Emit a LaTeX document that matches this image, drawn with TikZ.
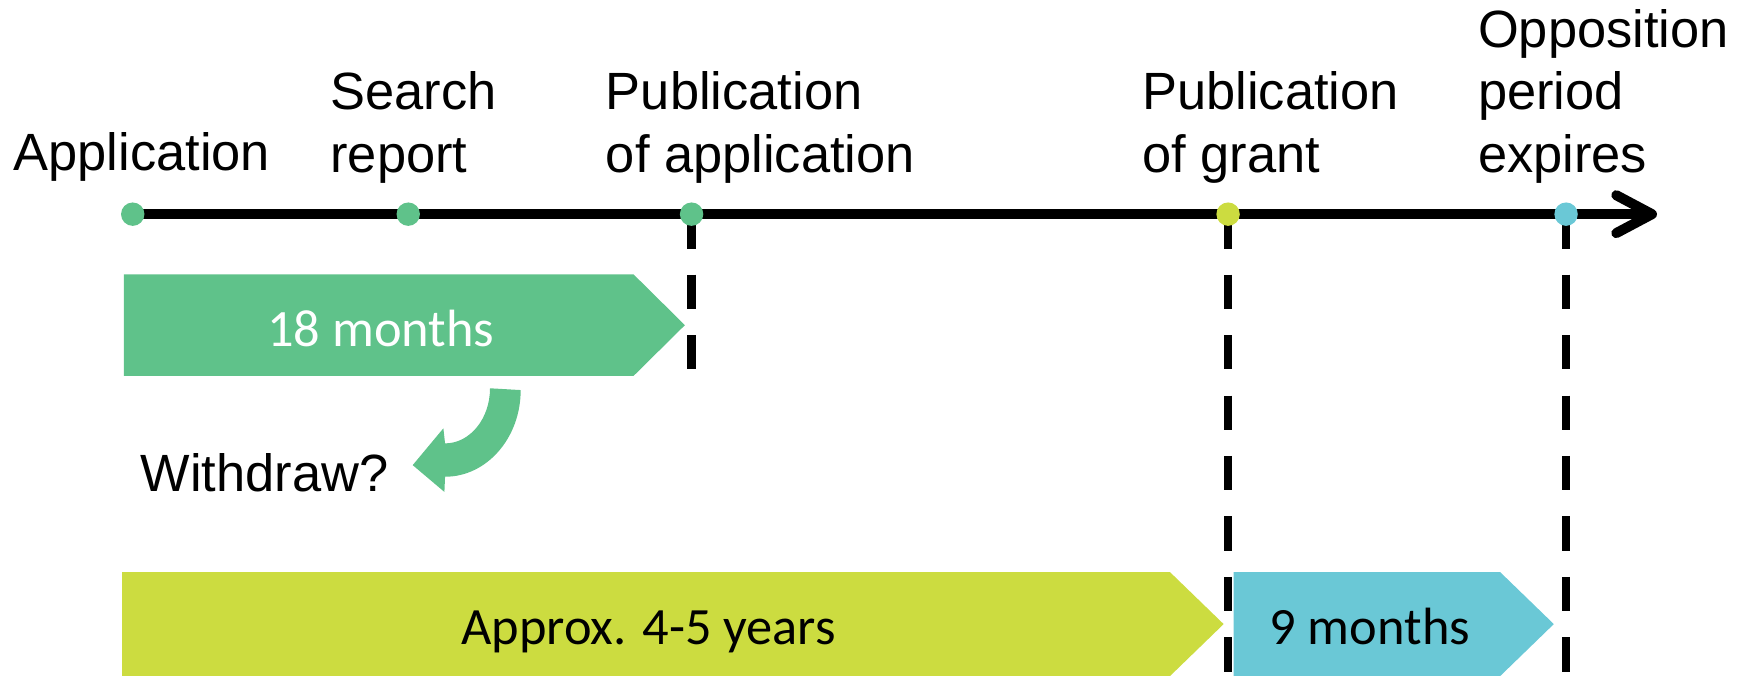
\documentclass[tikz,border=0pt]{standalone}
\usepackage{fontspec}
\setmainfont{Liberation Sans}
\newfontfamily\calfont{Carlito}
\definecolor{pgreen}{RGB}{95,194,138}
\definecolor{pyellow}{RGB}{204,220,64}
\definecolor{pcyan}{RGB}{106,200,214}
\begin{document}
\begin{tikzpicture}[x=1pt,y=1pt,
  lbl/.style={anchor=base west, align=left, inner sep=0pt, font=\fontsize{47}{56.4}\selectfont},
  boxtxt/.style={anchor=base, inner sep=0pt, font=\calfont\fontsize{47}{56.4}\selectfont},
  dot/.style={circle, inner sep=0pt, minimum size=21pt},
  tline/.style={line width=9pt},
  dline/.style={line width=7.5pt, dash pattern=on 30.8pt off 23.4pt}]
\useasboundingbox (0,0) rectangle (1568,606);
% timeline points
\coordinate (p1) at (119,414);
\coordinate (p2) at (366,414);
\coordinate (p3) at (620,414);
\coordinate (p4) at (1101,414);
\coordinate (p5) at (1404,414);
\coordinate (tip) at (1481,414);
\coordinate (armA) at (1449,431);
\coordinate (armB) at (1449,397);
\coordinate (e3) at (620,269);
\coordinate (e4) at (1101,0);
\coordinate (e5) at (1404,0);
% dashed lines
\draw[dline] (p3) -- (e3);
\draw[dline] (p4) -- (e4);
\draw[dline] (p5) -- (e5);
% timeline
\draw[tline] (p1) -- (tip);
\draw[tline, line cap=round, line join=round] (armA) -- (tip) -- (armB);
% period arrows
\fill[pgreen] (111,360) -- (568,360) -- (614,314.5) -- (568,269) -- (111,269) -- cycle;
\fill[pyellow] (109.5,93) -- (1049,93) -- (1097,46.5) -- (1049,0) -- (109.5,0) -- cycle;
\fill[pcyan] (1106,93) -- (1345,93) -- (1393,46.5) -- (1345,0) -- (1106,0) -- cycle;
\node[boxtxt, text=white] (t18) at (341.5,295) {18 months};
\node[boxtxt] (t45) at (581.5,28) {Approx. 4-5 years};
\node[boxtxt] (t9) at (1228,28) {9 months};
% dots
\node[dot, fill=pgreen] (d1) at (p1) {};
\node[dot, fill=pgreen] (d2) at (p2) {};
\node[dot, fill=pgreen] (d3) at (p3) {};
\node[dot, fill=pyellow] (d4) at (p4) {};
\node[dot, fill=pcyan] (d5) at (p5) {};
% labels (base anchor = baseline of last line)
\node[lbl] (l1) at (12,453) {Application};
\node[lbl] (l2) at (296,451) {Search\\report};
\node[lbl] (l3) at (543,451) {Publication\\of application};
\node[lbl] (l4) at (1024,451) {Publication\\of grant};
\node[lbl] (l5) at (1325,451) {Opposition\\period\\expires};
\node[lbl] (w) at (126,165) {Withdraw?};
% curved arrow
\fill[pgreen] (439.3,257.9) arc[start angle=0, end angle=-90, x radius=40.3, y radius=49.4]
  -- (397.5,222) -- (370,189) -- (398.4,165) -- (399,178.6)
  arc[start angle=-90, end angle=0, x radius=67.8, y radius=77.7] -- cycle;
\end{tikzpicture}
\end{document}
